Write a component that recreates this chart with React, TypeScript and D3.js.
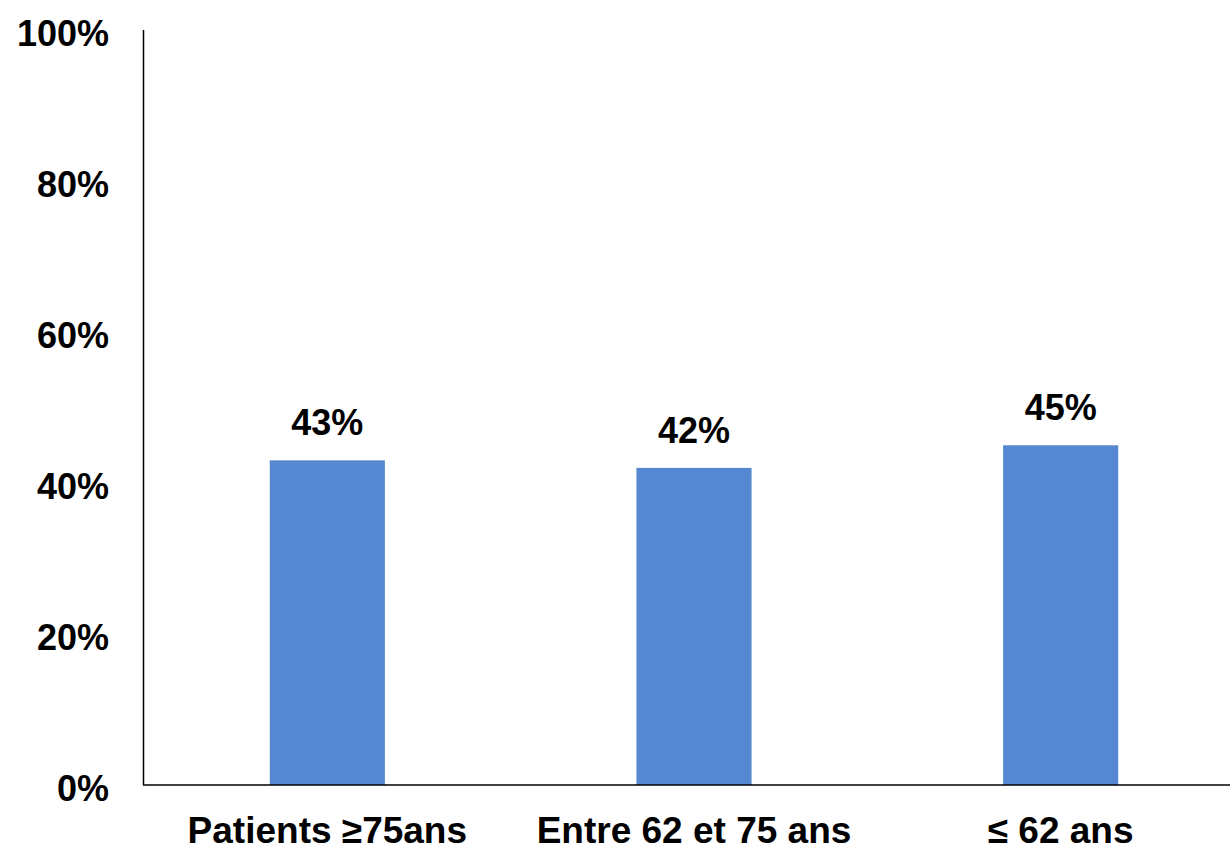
import React from "react";
import * as d3 from "d3";

const categories = ["Patients ≥75ans", "Entre 62 et 75 ans", "≤ 62 ans"];
const values = [43, 42, 45];
const yTicks = [0, 20, 40, 60, 80, 100];

const W = 1230;
const H = 849;
const FONT = "'Liberation Sans', Arial, sans-serif";

export default function App() {
  const x = d3
    .scaleBand<string>()
    .domain(categories)
    .range([144, 1244])
    .paddingInner(0.686)
    .paddingOuter(0.343);
  const y = d3.scaleLinear().domain([0, 100]).range([785, 30]);

  return (
    <svg
      width={W}
      height={H}
      style={{ position: "absolute", top: 0, left: 0, background: "#fff" }}
    >
      {categories.map((c, i) => (
        <rect
          key={c}
          x={x(c)}
          y={y(values[i])}
          width={x.bandwidth()}
          height={y(0) - y(values[i])}
          fill="#5588d0"
        />
      ))}
      <line x1={143.5} x2={143.5} y1={y(100)} y2={y(0)} stroke="#000" strokeWidth={1.5} />
      <line x1={143} x2={W} y1={785} y2={785} stroke="#000" strokeWidth={1.5} />
      {yTicks.map((t) => (
        <text
          key={t}
          x={109}
          y={y(t)}
          dy="0.44em"
          textAnchor="end"
          fontFamily={FONT}
          fontWeight="bold"
          fontSize={36}
        >
          {t}%
        </text>
      ))}
      {categories.map((c, i) => (
        <text
          key={"v" + c}
          x={(x(c) as number) + x.bandwidth() / 2}
          y={y(values[i]) - 25}
          textAnchor="middle"
          fontFamily={FONT}
          fontWeight="bold"
          fontSize={36}
        >
          {values[i]}%
        </text>
      ))}
      {categories.map((c) => (
        <text
          key={"c" + c}
          x={(x(c) as number) + x.bandwidth() / 2}
          y={843}
          textAnchor="middle"
          fontFamily={FONT}
          fontWeight="bold"
          fontSize={37}
        >
          {c}
        </text>
      ))}
    </svg>
  );
}
